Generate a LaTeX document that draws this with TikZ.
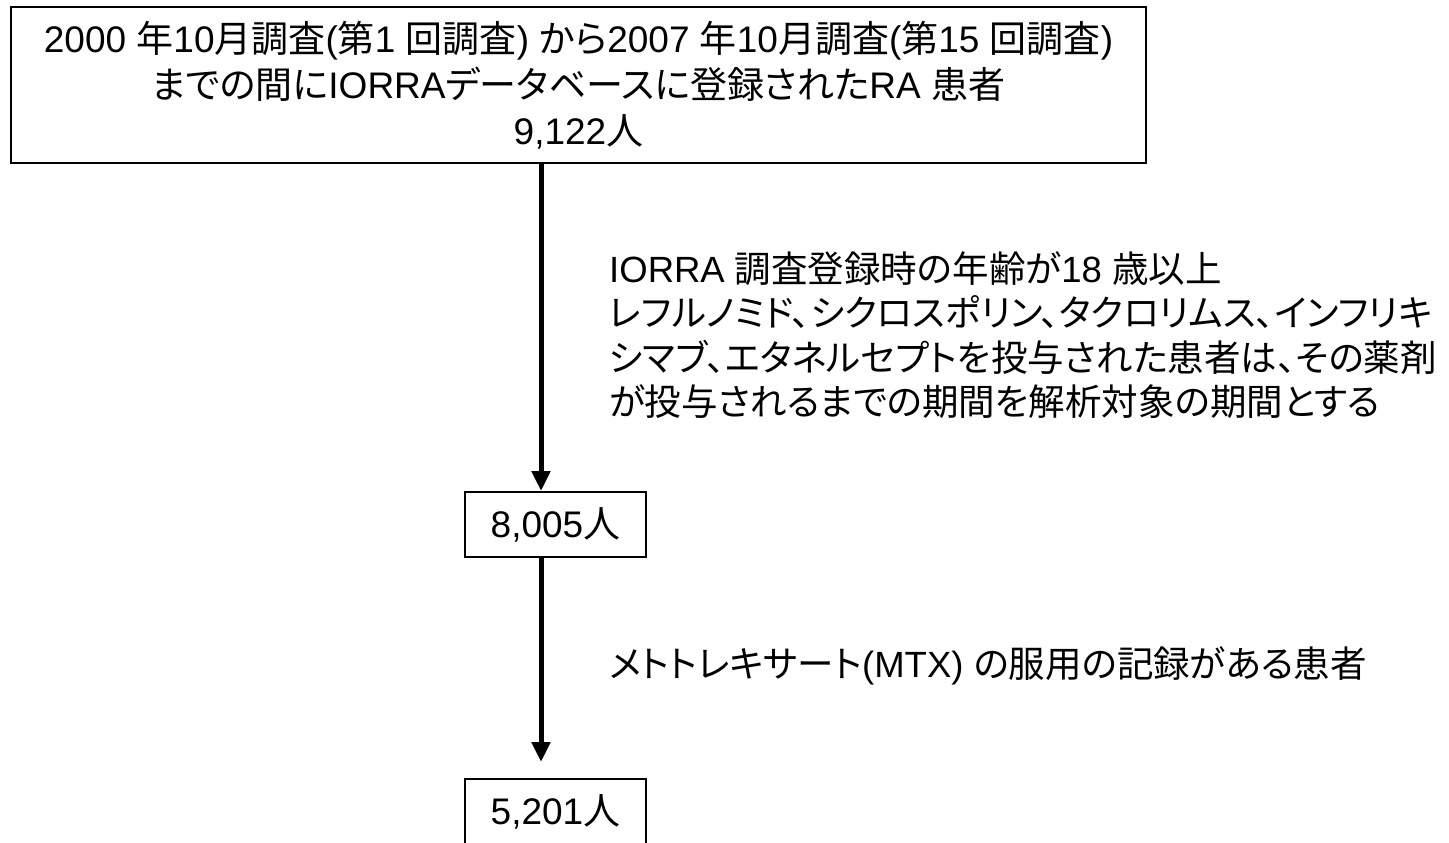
\documentclass[tikz,border=0pt]{standalone}
\usepackage{fontspec}
\setmainfont{Liberation Sans}
\newfontfamily\jpfont{Noto Sans CJK JP}[RawFeature=+palt]
\usetikzlibrary{arrows.meta}
% automatic switch between Latin and Japanese fonts
\XeTeXinterchartokenstate=1
\newXeTeXintercharclass\jpclass
\newcount\jpcnt
\jpcnt="3000
\loop\ifnum\jpcnt<"A000
  \XeTeXcharclass\jpcnt=\jpclass
  \advance\jpcnt by 1
\repeat
\jpcnt="FF00
\loop\ifnum\jpcnt<"FFF0
  \XeTeXcharclass\jpcnt=\jpclass
  \advance\jpcnt by 1
\repeat
\XeTeXcharclass`\(=0
\XeTeXcharclass`\)=0
\XeTeXcharclass`\,=0
\XeTeXinterchartoks 0 \jpclass = {\jpfont}
\XeTeXinterchartoks 4095 \jpclass = {\jpfont}
\XeTeXinterchartoks \jpclass 0 = {\rmfamily}
\XeTeXinterchartoks 4095 0 = {\rmfamily}
\tikzset{
  box/.style={draw=black, line width=2pt, inner sep=0pt, align=center,
    font=\fontsize{37}{46}\selectfont},
  crit/.style={anchor=west, inner sep=0pt, align=left,
    font=\fontsize{36.5}{44.5}\selectfont},
  flow/.style={line width=5pt, -{Triangle[width=18pt,length=20pt]}}
}
\begin{document}
\begin{tikzpicture}[x=1pt, y=-1pt]
\useasboundingbox (0,0) rectangle (1449,843);
\node[box, minimum width=1135pt, minimum height=156pt] (all) at (578.5,85)
  {2000 年10月調査(第1 回調査) から2007 年10月調査(第15 回調査)\\
   までの間にIORRAデータベースに登録されたRA 患者\\
   9,122人};
\node[box, minimum width=181pt, minimum height=65pt] (n2) at (555.5,524.5) {8,005人};
\node[box, minimum width=181pt, minimum height=66pt] (n3) at (555.5,812) {5,201人};
\coordinate (ax) at (541,0);
\node[crit] (c1) at (609,335)
  {IORRA 調査登録時の年齢が18 歳以上\\
   レフルノミド、シクロスポリン、タクロリムス、インフリキ\\
   シマブ、エタネルセプトを投与された患者は、その薬剤\\
   が投与されるまでの期間を解析対象の期間とする};
\node[crit] (c2) at (609,666) {メトトレキサート(MTX) の服用の記録がある患者};
\draw[flow] (all.south -| ax) -- (n2.north -| ax);
\draw[flow, shorten >=16pt] (n2.south -| ax) -- (n3.north -| ax);
\end{tikzpicture}
\end{document}
